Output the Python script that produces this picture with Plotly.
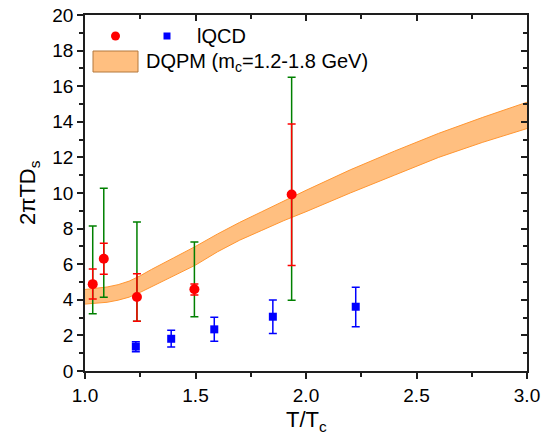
import plotly.graph_objects as go

# ---- data ----
red_x = [1.035, 1.085, 1.235, 1.495, 1.935]
red_y = [4.88, 6.31, 4.16, 4.59, 9.92]
red_stat_hi = [5.73, 7.17, 5.47, 4.89, 13.88]
red_stat_lo = [4.04, 5.43, 2.79, 4.27, 5.92]
red_sys_hi = [8.15, 10.26, 8.37, 7.25, 16.5]
red_sys_lo = [3.22, 4.14, 2.79, 3.05, 3.97]

blue_x = [1.23, 1.39, 1.585, 1.85, 2.225]
blue_y = [1.37, 1.81, 2.34, 3.05, 3.61]
blue_hi = [1.65, 2.29, 3.02, 3.99, 4.70]
blue_lo = [1.08, 1.35, 1.67, 2.10, 2.49]

band_x = [1.0, 1.05, 1.1, 1.15, 1.2, 1.25, 1.3, 1.4, 1.5, 1.6, 1.7, 1.8, 1.9, 2.0, 2.2, 2.4, 2.6, 2.8, 3.0]
band_upper = [4.58, 4.63, 4.72, 4.85, 5.05, 5.35, 5.7, 6.35, 7.0, 7.7, 8.35, 8.95, 9.55, 10.15, 11.3, 12.35, 13.35, 14.25, 15.1]
band_lower = [3.76, 3.79, 3.86, 3.98, 4.15, 4.42, 4.72, 5.35, 5.95, 6.7, 7.35, 7.9, 8.45, 8.95, 10.0, 11.0, 12.0, 12.85, 13.62]

x_ticks = [1.0, 1.5, 2.0, 2.5, 3.0]
y_ticks = [0, 2, 4, 6, 8, 10, 12, 14, 16, 18, 20]

FONT = "Arial, Liberation Sans, sans-serif"
BAND_FILL = "rgb(255,191,128)"
BAND_LINE = "rgb(255,150,50)"
AXC = "rgb(30,30,30)"

fig = go.Figure()

# band
fig.add_trace(go.Scatter(x=band_x, y=band_lower, mode="lines",
                         line=dict(color=BAND_LINE, width=1), showlegend=False, hoverinfo="skip"))
fig.add_trace(go.Scatter(x=band_x, y=band_upper, mode="lines", fill="tonexty",
                         fillcolor=BAND_FILL, line=dict(color=BAND_LINE, width=1),
                         showlegend=False, hoverinfo="skip"))

# green systematic error bars
fig.add_trace(go.Scatter(
    x=red_x, y=red_y, mode="markers", marker=dict(size=1, opacity=0),
    error_y=dict(type="data", symmetric=False,
                 array=[h - y for h, y in zip(red_sys_hi, red_y)],
                 arrayminus=[y - l for l, y in zip(red_sys_lo, red_y)],
                 color="rgb(0,128,0)", thickness=1.5, width=4),
    showlegend=False, hoverinfo="skip"))

# red points
fig.add_trace(go.Scatter(
    x=red_x, y=red_y, mode="markers",
    marker=dict(symbol="circle", size=10, color="rgb(255,0,0)"),
    error_y=dict(type="data", symmetric=False,
                 array=[h - y for h, y in zip(red_stat_hi, red_y)],
                 arrayminus=[y - l for l, y in zip(red_stat_lo, red_y)],
                 color="rgb(255,0,0)", thickness=1.5, width=4),
    showlegend=False))

# blue points
fig.add_trace(go.Scatter(
    x=blue_x, y=blue_y, mode="markers",
    marker=dict(symbol="square", size=8, color="rgb(0,0,255)"),
    error_y=dict(type="data", symmetric=False,
                 array=[h - y for h, y in zip(blue_hi, blue_y)],
                 arrayminus=[y - l for l, y in zip(blue_lo, blue_y)],
                 color="rgb(0,0,255)", thickness=1.5, width=4),
    showlegend=False))

# dummy trace for mirrored axes
fig.add_trace(go.Scatter(x=[2], y=[10], xaxis="x2", yaxis="y2", mode="markers",
                         marker=dict(opacity=0, size=1), showlegend=False, hoverinfo="skip"))

AX = dict(showline=True, linecolor=AXC, linewidth=1.5, showgrid=False, zeroline=False,
          tickcolor=AXC, tickwidth=1.5, automargin=False)

fig.update_layout(
    width=549, height=444,
    margin=dict(l=85, r=22, t=15, b=73),
    plot_bgcolor="white", paper_bgcolor="white",
    font=dict(family=FONT, color="black", size=19),
    xaxis=dict(range=[1.0, 3.0], tickvals=x_ticks, ticktext=[f"{v:.1f}" for v in x_ticks],
               ticks="outside", ticklen=6,
               minor=dict(dtick=0.25, tick0=1.0, ticks="outside", ticklen=4, tickcolor=AXC, tickwidth=1.5),
               tickfont=dict(size=19), **AX),
    yaxis=dict(range=[0, 20], tickvals=y_ticks, ticks="outside", ticklen=6,
               minor=dict(dtick=1, tick0=0, ticks="outside", ticklen=4, tickcolor=AXC, tickwidth=1.5),
               tickfont=dict(size=19), **AX),
    xaxis2=dict(range=[1.0, 3.0], overlaying="x", side="top", tickvals=x_ticks, showticklabels=False,
                ticks="inside", ticklen=6,
                minor=dict(dtick=0.25, tick0=1.0, ticks="inside", ticklen=4, tickcolor=AXC, tickwidth=1.5),
                **AX),
    yaxis2=dict(range=[0, 20], overlaying="y", side="right", tickvals=y_ticks, showticklabels=False,
                ticks="inside", ticklen=6,
                minor=dict(dtick=1, tick0=0, ticks="inside", ticklen=4, tickcolor=AXC, tickwidth=1.5),
                **AX),
)

# manual legend and axis titles (positioned in paper coordinates)
def px2paper(px, py):
    return (px - 85) / 442.0, (371 - py) / 356.0

shapes = []
cx, cy = px2paper(115.5, 36)
shapes.append(dict(type="circle", xref="paper", yref="paper", xsizemode="pixel", ysizemode="pixel",
                   xanchor=cx, yanchor=cy, x0=-4.5, x1=4.5, y0=-4.5, y1=4.5,
                   fillcolor="rgb(255,0,0)", line=dict(width=0)))
sx, sy = px2paper(167, 36)
shapes.append(dict(type="rect", xref="paper", yref="paper", xsizemode="pixel", ysizemode="pixel",
                   xanchor=sx, yanchor=sy, x0=-3.5, x1=3.5, y0=-3.5, y1=3.5,
                   fillcolor="rgb(0,0,255)", line=dict(width=0)))
bx0, by0 = px2paper(93, 72)
bx1, by1 = px2paper(138, 51)
shapes.append(dict(type="rect", xref="paper", yref="paper", x0=bx0, x1=bx1, y0=by0, y1=by1,
                   fillcolor=BAND_FILL, line=dict(color="rgb(180,120,60)", width=1)))
fig.update_layout(shapes=shapes)

tx, ty = px2paper(195, 36)
fig.add_annotation(x=tx, y=ty, xref="paper", yref="paper", text="lQCD", showarrow=False,
                   xanchor="left", yanchor="middle", font=dict(size=20))
tx, ty = px2paper(144, 62)
fig.add_annotation(x=tx, y=ty, xref="paper", yref="paper", text="DQPM (m<sub>c</sub>=1.2-1.8 GeV)",
                   showarrow=False, xanchor="left", yanchor="middle", font=dict(size=20))

# axis titles
tx, ty = px2paper(306, 421)
fig.add_annotation(x=tx, y=ty, xref="paper", yref="paper", text="T/T<sub>c</sub>", showarrow=False,
                   xanchor="center", yanchor="middle", font=dict(size=22))
tx, ty = px2paper(29, 193)
fig.add_annotation(x=tx, y=ty, xref="paper", yref="paper", text="2πTD<sub>s</sub>", showarrow=False,
                   xanchor="center", yanchor="middle", textangle=-90, font=dict(size=22))

fig.write_html("out.html", config={"displayModeBar": False},
               post_script="document.body.style.margin='0px';document.body.style.overflow='hidden';")
